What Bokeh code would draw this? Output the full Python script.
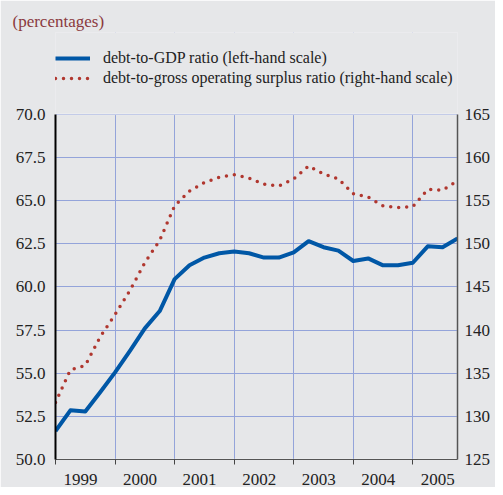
from bokeh.plotting import figure
from bokeh.models import (Range1d, LinearAxis, FixedTicker, Legend, LegendItem,
                          NumeralTickFormatter, CustomJSTickFormatter, BoxAnnotation)
from bokeh.embed import file_html
from bokeh.resources import INLINE

# ---- data (quarterly) ----
quarters = ["1999Q1", "1999Q2", "1999Q3", "1999Q4",
            "2000Q1", "2000Q2", "2000Q3", "2000Q4",
            "2001Q1", "2001Q2", "2001Q3", "2001Q4",
            "2002Q1", "2002Q2", "2002Q3", "2002Q4",
            "2003Q1", "2003Q2", "2003Q3", "2003Q4",
            "2004Q1", "2004Q2", "2004Q3", "2004Q4",
            "2005Q1", "2005Q2", "2005Q3", "2005Q4"]
debt_to_gdp = [51.65, 52.85, 52.78, 53.9, 55.05, 56.3, 57.6, 58.6,
               60.45, 61.25, 61.7, 61.95, 62.05, 61.95, 61.7, 61.7,
               62.0, 62.65, 62.3, 62.1, 61.5, 61.65, 61.25, 61.25,
               61.4, 62.35, 62.3, 62.8]
debt_to_gos = [131.6, 135.4, 135.9, 139.2, 141.8, 144.6, 147.8, 150.4,
               154.4, 156.1, 157.1, 157.7, 158.0, 157.6, 156.9, 156.7,
               157.5, 159.0, 158.1, 157.5, 155.8, 155.4, 154.4, 154.2,
               154.3, 156.3, 156.2, 157.3]
years = [1999, 2000, 2001, 2002, 2003, 2004, 2005]
left_ticks = [50.0, 52.5, 55.0, 57.5, 60.0, 62.5, 65.0, 67.5, 70.0]
right_ticks = [125, 130, 135, 140, 145, 150, 155, 160, 165]
series_labels = ["debt-to-GDP ratio (left-hand scale)",
                 "debt-to-gross operating surplus ratio (right-hand scale)"]
unit_note = "(percentages)"

x = [int(q[:4]) + (int(q[5]) - 1) * 0.25 for q in quarters]

BG = "#E6E7E9"
FONT = "Liberation Serif"
FS = "17px"
BLUE = "#0057A6"
RED = "#B0372F"
TXT = "#222222"

W, H = 495, 487
BORDER_TOP = 32        # frame starts here; header text lives above the plot box
HEAD_PX = 82           # pixels between frame top and the 70.0 line
PLOT_PX = 346          # pixels between 70.0 line and 50.0 line
X0, X1 = 1999, 2005.75
L0, L1 = left_ticks[0], left_ticks[-1]
R0, R1 = right_ticks[0], right_ticks[-1]
l_top = L1 + (L1 - L0) * HEAD_PX / PLOT_PX
r_top = R1 + (R1 - R0) * HEAD_PX / PLOT_PX

p = figure(width=W, height=H, output_backend="svg", toolbar_location=None,
           x_range=Range1d(X0, X1), y_range=Range1d(L0, l_top),
           min_border_left=55, min_border_right=38, min_border_top=BORDER_TOP,
           min_border_bottom=24,
           background_fill_color=BG, border_fill_color=BG,
           outline_line_color=None)
p.extra_y_ranges = {"right": Range1d(R0, r_top)}

# note above the chart
p.title.text = unit_note
p.title.text_font = FONT
p.title.text_font_style = "normal"
p.title.text_font_size = FS
p.title.text_color = "#8B3A3E"
p.title.align = "left"
p.title.offset = -43
p.title.standoff = 4

# grids
p.xgrid.ticker = FixedTicker(ticks=years[1:])
p.ygrid.ticker = FixedTicker(ticks=left_ticks)
for g in (p.xgrid[0], p.ygrid[0]):
    g.grid_line_color = "#94A4DA"
    g.grid_line_width = 1

# hide grid above the plot box, then draw the plot box border
p.add_layout(BoxAnnotation(bottom=L1, fill_color=BG, fill_alpha=1,
                           line_color=None, level="underlay"))
p.add_layout(BoxAnnotation(left=X0, right=X1, bottom=L0, top=L1,
                           fill_alpha=0, line_color="white", line_width=2,
                           level="underlay"))

# bottom axis: labels mid-year, ticks at year boundaries
xa = p.xaxis[0]
xa.ticker = FixedTicker(ticks=[y + 0.42 for y in years], minor_ticks=years)
xa.formatter = CustomJSTickFormatter(code="return Math.floor(tick).toString()")
xa.major_tick_line_color = None
xa.major_tick_out = 0
xa.major_tick_in = 0
xa.minor_tick_out = 5
xa.minor_tick_in = 0
xa.minor_tick_line_color = "#444444"
xa.axis_line_color = "#555555"
xa.axis_line_width = 1
xa.major_label_standoff = 9
xa.major_label_text_font = FONT
xa.major_label_text_font_size = FS
xa.major_label_text_color = TXT

# left axis
ya = p.yaxis[0]
ya.ticker = FixedTicker(ticks=left_ticks)
ya.bounds = (L0, L1)
ya.formatter = NumeralTickFormatter(format="0.0")
ya.major_tick_out = 0
ya.major_tick_in = 0
ya.minor_tick_line_color = None
ya.axis_line_color = "black"
ya.axis_line_width = 2
ya.major_label_standoff = 10
ya.major_label_text_font = FONT
ya.major_label_text_font_size = FS
ya.major_label_text_color = TXT

# right axis
ra = LinearAxis(y_range_name="right", ticker=FixedTicker(ticks=right_ticks))
ra.bounds = (R0, R1)
ra.major_tick_out = 0
ra.major_tick_in = 0
ra.minor_tick_line_color = None
ra.axis_line_color = "#555555"
ra.axis_line_width = 1.5
ra.major_label_standoff = 7
ra.major_label_text_font = FONT
ra.major_label_text_font_size = FS
ra.major_label_text_color = TXT
p.add_layout(ra, "right")

# series
r1 = p.line(x, debt_to_gdp, line_color=BLUE, line_width=4, line_join="round")
r2 = p.line(x, debt_to_gos, y_range_name="right", line_color=RED,
            line_width=3.5, line_dash="0 8", line_cap="round")

legend = Legend(items=[LegendItem(label=series_labels[0], renderers=[r1]),
                       LegendItem(label=series_labels[1], renderers=[r2])],
                location=(0, 371), orientation="vertical")
legend.background_fill_alpha = 0
legend.border_line_color = None
legend.label_text_font = FONT
legend.label_text_font_size = "16px"
legend.label_text_color = TXT
legend.glyph_width = 35
legend.glyph_height = 20
legend.label_height = 20
legend.label_standoff = 13
legend.spacing = 0
legend.padding = 0
legend.margin = 0
p.add_layout(legend, "center")

open("out.html", "w").write(file_html(p, INLINE))
